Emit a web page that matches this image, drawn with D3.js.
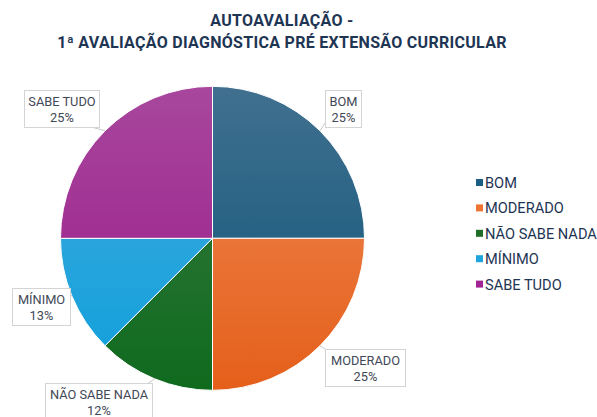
<!DOCTYPE html>
<html>
<head>
<meta charset="utf-8">
<script src="https://cdn.jsdelivr.net/npm/d3@7"></script>
<style>
  html, body { margin: 0; padding: 0; background: #fff; }
  svg { display: block; }
</style>
</head>
<body>
<div id="vis"></div>
<script>
// chart data
var categories = ['BOM', 'MODERADO', 'NÃO SABE NADA', 'MÍNIMO', 'SABE TUDO'];
var values = [2, 2, 1, 1, 2];
var pctLabels = ['25%', '25%', '12%', '13%', '25%'];
var titleLines = ['AUTOAVALIAÇÃO -', '1ª AVALIAÇÃO DIAGNÓSTICA PRÉ EXTENSÃO CURRICULAR'];

// colours: [top, bottom] of each slice gradient
var colorTop = ['#41708f', '#ee8a55', '#3a7a40', '#45abdf', '#a8479d'];
var colorBottom = ['#0b5479', '#e55f1a', '#0f6a1e', '#0e9fda', '#991888'];
var legendColors = ['#1b5e84', '#ee7431', '#1e6e28', '#1ea5de', '#a02593'];

var width = 597;
var height = 417;
var cx = 212.5, cy = 238.3, radius = 152;

// label boxes (layout only): x, y, w, h, and corner the leader starts from
var boxes = [
    {x: 325, y: 90, w: 36, h: 37, lx: 327, ly: 120},
    {x: 325, y: 349, w: 80, h: 37, lx: 328, ly: 351},
    {x: 45, y: 383, w: 107, h: 40, lx: 146, ly: 385},
    {x: 12, y: 288, w: 58, h: 37, lx: 68, ly: 291},
    {x: 24, y: 90, w: 75, h: 37, lx: 88, ly: 126}
];

var svg = d3.select('#vis')
    .append('svg')
        .attr('width', width)
        .attr('height', height);

var defs = svg.append('defs');
categories.forEach(function(c, i) {
    var g = defs.append('linearGradient')
        .attr('id', 'grad' + i)
        .attr('gradientUnits', 'userSpaceOnUse')
        .attr('x1', 0).attr('y1', -radius)
        .attr('x2', 0).attr('y2', radius);
    g.append('stop').attr('offset', '0%').attr('stop-color', colorTop[i]);
    g.append('stop').attr('offset', '100%').attr('stop-color', colorBottom[i]);
});

// title
svg.selectAll('.title')
    .data(titleLines)
    .enter()
    .append('text')
        .attr('class', 'title')
        .attr('x', 282)
        .attr('y', function(d, i) { return 26 + i * 22; })
        .attr('text-anchor', 'middle')
        .attr('font-family', 'Roboto, sans-serif')
        .attr('font-weight', 'bold')
        .attr('font-size', 16)
        .attr('letter-spacing', 0.3)
        .attr('fill', '#1e3553')
        .text(function(d) { return d; });

var pie = d3.pie()
    .sort(null)
    .value(function(d) { return d; });

var arc = d3.arc()
    .innerRadius(0)
    .outerRadius(radius);

var arcs = pie(values);

var g = svg.append('g')
    .attr('transform', 'translate(' + cx + ',' + cy + ')');

g.selectAll('.slice')
    .data(arcs)
    .enter()
    .append('path')
        .attr('class', 'slice')
        .attr('d', arc)
        .attr('fill', function(d, i) { return 'url(#grad' + i + ')'; })
        .attr('stroke', '#ffffff')
        .attr('stroke-width', 1);

// leader lines
svg.selectAll('.leader')
    .data(arcs)
    .enter()
    .append('line')
        .attr('class', 'leader')
        .attr('x1', function(d, i) { return boxes[i].lx; })
        .attr('y1', function(d, i) { return boxes[i].ly; })
        .attr('x2', function(d) { return cx + Math.sin((d.startAngle + d.endAngle) / 2) * radius; })
        .attr('y2', function(d) { return cy - Math.cos((d.startAngle + d.endAngle) / 2) * radius; })
        .attr('stroke', '#c8c8c8')
        .attr('stroke-width', 1);

var lab = svg.selectAll('.lab')
    .data(categories)
    .enter()
    .append('g')
        .attr('class', 'lab');

lab.append('rect')
    .attr('x', function(d, i) { return boxes[i].x + 0.5; })
    .attr('y', function(d, i) { return boxes[i].y + 0.5; })
    .attr('width', function(d, i) { return boxes[i].w; })
    .attr('height', function(d, i) { return boxes[i].h; })
    .attr('fill', '#ffffff')
    .attr('stroke', '#d4d4d4')
    .attr('stroke-width', 1);

lab.append('text')
    .attr('x', function(d, i) { return boxes[i].x + boxes[i].w / 2 + 0.5; })
    .attr('y', function(d, i) { return boxes[i].y + 15.5; })
    .attr('text-anchor', 'middle')
    .attr('font-family', 'Roboto, sans-serif')
    .attr('font-size', 12.8)
    .attr('fill', '#3f4856')
    .text(function(d) { return d; });

lab.append('text')
    .attr('x', function(d, i) { return boxes[i].x + boxes[i].w / 2 + 0.5; })
    .attr('y', function(d, i) { return boxes[i].y + 31.5; })
    .attr('text-anchor', 'middle')
    .attr('font-family', 'Roboto, sans-serif')
    .attr('font-size', 12.8)
    .attr('fill', '#3f4856')
    .text(function(d, i) { return pctLabels[i]; });

// legend
var legend = svg.selectAll('.legend')
    .data(categories)
    .enter()
    .append('g')
        .attr('class', 'legend')
        .attr('transform', function(d, i) { return 'translate(476,' + (183 + i * 25.4) + ')'; });

legend.append('rect')
    .attr('x', 0)
    .attr('y', -4)
    .attr('width', 7)
    .attr('height', 7)
    .attr('fill', function(d, i) { return legendColors[i]; });

legend.append('text')
    .attr('x', 9)
    .attr('y', 5)
    .attr('font-family', 'Roboto, sans-serif')
    .attr('font-size', 14.6)
    .attr('fill', '#1e3553')
    .text(function(d) { return d; });
</script>
</body>
</html>
